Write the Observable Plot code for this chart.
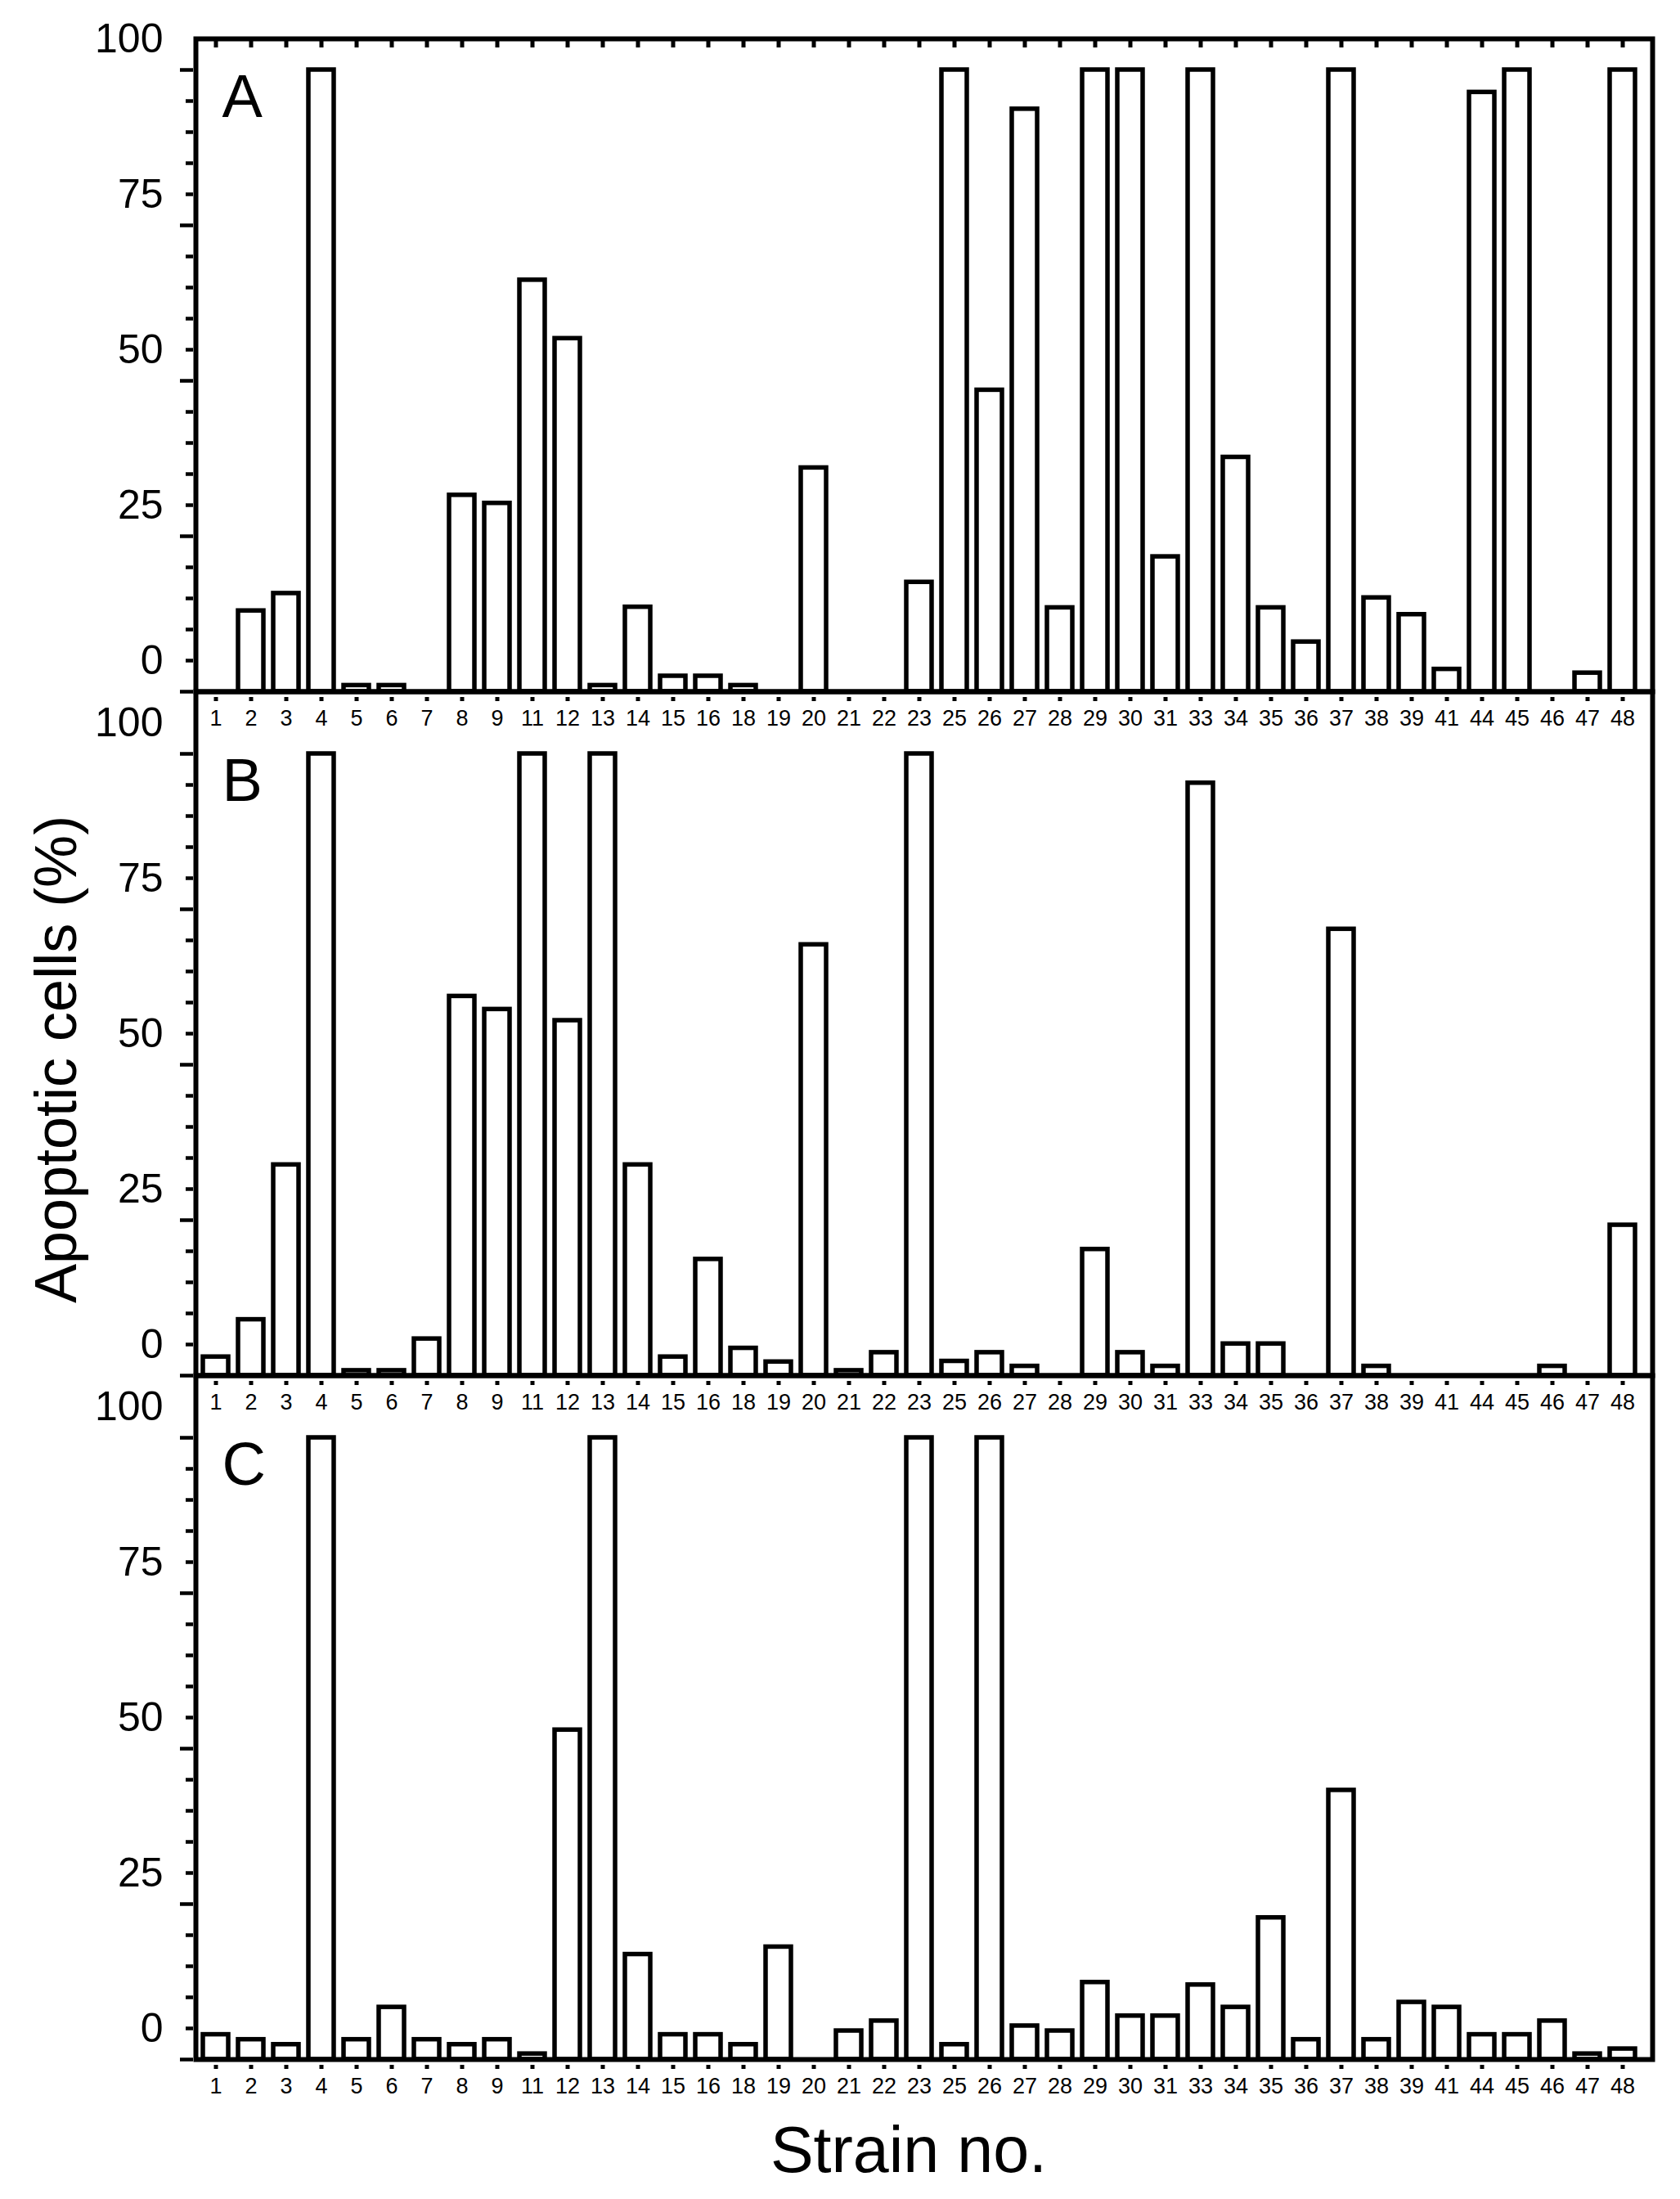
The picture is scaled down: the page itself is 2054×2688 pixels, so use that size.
<!DOCTYPE html>
<html>
<head>
<meta charset="utf-8">
<script src="https://cdn.jsdelivr.net/npm/d3@7"></script>
<script src="https://cdn.jsdelivr.net/npm/@observablehq/plot@0.6"></script>
<style>
  html, body { margin: 0; padding: 0; background: #fff; }
  #fig { position: relative; width: 2054px; height: 2688px; background: #fff;
         font-family: "Liberation Sans", Arial, sans-serif; color: #000; }
  #fig svg { position: absolute; left: 0; }
  .ytitle { position: absolute; white-space: nowrap; font-size: 72px; line-height: 1;
            transform: translate(-50%, -50%) rotate(-90deg); }
  .xtitle { position: absolute; white-space: nowrap; font-size: 79px; line-height: 1;
            transform: translate(-50%, 0); }
</style>
</head>
<body>
<div id="fig"></div>
<script>
// ---- data ----
const strains = ["1","2","3","4","5","6","7","8","9","11","12","13","14","15","16","18","19","20","21","22","23","25","26","27","28","29","30","31","33","34","35","36","37","38","39","41","44","45","46","47","48"];

const valuesA = [0, 13, 15.8, 100, 1, 1, 0, 31.6, 30.3,
                 66.2, 56.8, 1, 13.6, 2.5, 2.5,
                 1, 0, 36, 0, 0, 17.6,
                 100, 48.5, 93.7, 13.5, 100, 100, 21.7,
                 100, 37.7, 13.5, 8, 100, 15.1, 12.4,
                 3.6,
                 96.4, 100, 0, 3, 100];

const valuesB = [3, 9, 33.9, 100, 0.8, 0.8, 5.9, 61, 58.9,
                 100, 57.1, 100, 33.9, 3, 18.7,
                 4.4, 2.2, 69.3, 0.8, 3.7, 100,
                 2.3, 3.7, 1.5, 0, 20.3, 3.7, 1.5,
                 95.3, 5.1, 5.1, 0, 71.8, 1.5, 0,
                 0,
                 0, 0, 1.5, 0, 24.2];

const valuesC = [4, 3.2, 2.4, 100, 3.2, 8.4, 3.2, 2.4, 3.2,
                 0.9, 53, 100, 16.9, 4, 4,
                 2.4, 18.1, 0, 4.6, 6.2, 100,
                 2.4, 100, 5.4, 4.6, 12.4, 7, 7,
                 12, 8.4, 22.8, 3.2, 43.3, 3.2, 9.2,
                 8.4,
                 4, 4, 6.2, 0.9, 1.7];

const panelLetters = ["A", "B", "C"];
const majorTicks = [0, 25, 50, 75, 100];
const minorTicks = [5, 10, 15, 20, 30, 35, 40, 45, 55, 60, 65, 70, 80, 85, 90, 95];
const tickLabels = [0, 25, 50, 75, 100];
const yTitle = "Apoptotic cells (%)";
const xTitle = "Strain no.";

// ---- layout ----
const W = 2054;
const K = 7.6;            // px per y unit
const ML = 236, MR = 43;  // band range 236..2011
const MB = 70;
const LABEL_SHIFT = 5;    // printed labels sit one minor step above the major ticks
const FONT = "'Liberation Sans', Arial, Helvetica, sans-serif";

const fig = document.getElementById("fig");

function panel(letter, values, top, marginTop, domainMax, topTicks) {
  const data = strains.map((s, i) => ({strain: s, value: values[i]}));
  const height = marginTop + domainMax * K + MB;
  const marks = [
    Plot.barY(data, {x: "strain", y: "value", fill: "white", stroke: "black",
                     strokeWidth: 5.5, insetLeft: 6, insetRight: 6}),
    Plot.frame({stroke: "black", strokeWidth: 6, insetLeft: 3, insetRight: -9}),
    Plot.axisY(majorTicks, {tickSize: 16, strokeWidth: 4.5, tickFormat: () => "", label: null}),
    Plot.axisY(minorTicks, {tickSize: 9, strokeWidth: 4.5, tickFormat: () => "", label: null}),
    Plot.axisY(tickLabels.map(v => v + LABEL_SHIFT),
               {tickSize: 0, tickPadding: 37, fontSize: 50,
                tickFormat: d => String(d - LABEL_SHIFT), label: null}),
    Plot.axisX({tickSize: 5, strokeWidth: 5, dy: 7, tickFormat: () => "", label: null}),
    Plot.axisX({tickSize: 0, tickPadding: 22, fontSize: 27, label: null}),
    Plot.text([letter], {text: d => d, y: 95.5, frameAnchor: "left", dx: 35,
                         textAnchor: "start", fontSize: 74})
  ];
  if (topTicks) {
    marks.push(Plot.axisX({anchor: "top", tickSize: 10, strokeWidth: 5, dy: 10,
                           tickFormat: () => "", label: null}));
  }
  const svg = Plot.plot({
    width: W, height,
    marginLeft: ML, marginRight: MR, marginTop, marginBottom: MB,
    style: {background: "transparent", fontFamily: FONT, color: "black", overflow: "visible"},
    x: {type: "band", domain: strains, padding: 0, axis: null, label: null},
    y: {domain: [0, domainMax], axis: null, label: null},
    marks
  });
  svg.style.top = top + "px";
  fig.appendChild(svg);
}

panel(panelLetters[0], valuesA, 0, 47, 105, true);
panel(panelLetters[1], valuesB, 835, 10, 110, false);
panel(panelLetters[2], valuesC, 1671, 10, 110, false);

const yt = document.createElement("div");
yt.className = "ytitle";
yt.textContent = yTitle;
yt.style.left = "68px";
yt.style.top = "1295px";
fig.appendChild(yt);

const xt = document.createElement("div");
xt.className = "xtitle";
xt.textContent = xTitle;
xt.style.left = "1111px";
xt.style.top = "2588px";
fig.appendChild(xt);
</script>
</body>
</html>
